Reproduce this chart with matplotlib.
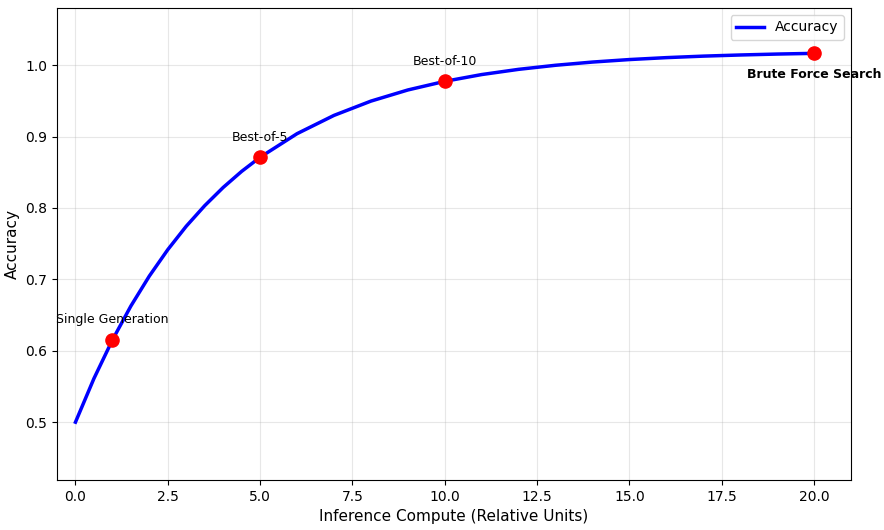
import matplotlib
matplotlib.use("Agg")
import matplotlib.pyplot as plt

compute = [0, 0.5, 1, 1.5, 2, 2.5, 3, 3.5, 4, 4.5, 5, 6, 7, 8, 9, 10, 11, 12, 13, 14, 15, 16, 17, 18, 19, 20]
accuracy = [0.5, 0.5611, 0.6150, 0.6626, 0.7046, 0.7416, 0.7744, 0.8032, 0.8287, 0.8512, 0.8710,
            0.9040, 0.9296, 0.9496, 0.9652, 0.9773, 0.9868, 0.9941, 0.9998, 1.0043, 1.0078,
            1.0105, 1.0126, 1.0142, 1.0155, 1.0165]
point_x = [1, 5, 10, 20]
point_y = [0.6150, 0.8710, 0.9773, 1.0165]
point_labels = ["Single Generation", "Best-of-5", "Best-of-10", "Brute Force Search"]

fig = plt.figure(figsize=(8.84, 5.3), dpi=100)
ax = fig.add_axes([57/884, 50/530, 794/884, 472/530])
ax.plot(compute, accuracy, color="blue", lw=2.5, label="Accuracy")
ax.scatter(point_x, point_y, color="red", s=90, zorder=5)
for x, y, lab in zip(point_x[:3], point_y[:3], point_labels[:3]):
    ax.annotate(lab, (x, y), xytext=(0, 12), textcoords="offset points", ha="center", fontsize=9)
ax.annotate(point_labels[3], (point_x[3], point_y[3]), xytext=(0, -18), textcoords="offset points",
            ha="center", fontsize=9, fontweight="bold")
ax.set_xlim(-0.5, 21.0)
ax.set_ylim(0.419, 1.080)
ax.set_xlabel("Inference Compute (Relative Units)", fontsize=11)
ax.set_ylabel("Accuracy", fontsize=11)
ax.grid(True, alpha=0.3)
ax.legend(loc="upper right")
fig.savefig("out.png", dpi=100)
